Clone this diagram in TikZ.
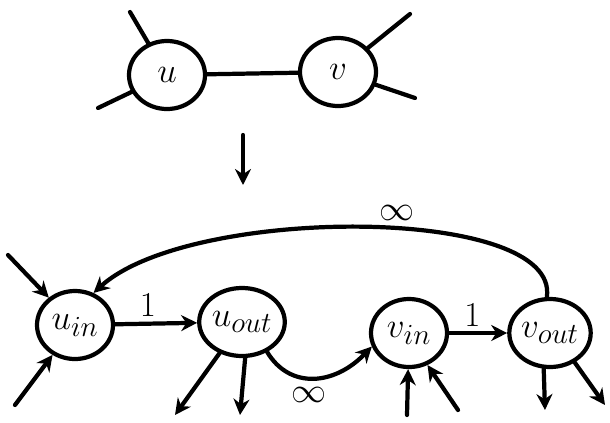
\documentclass[tikz,border=0pt]{standalone}
\usetikzlibrary{arrows.meta,shapes.geometric,positioning}
\begin{document}
\begin{tikzpicture}[
    x=0.025cm, y=-0.025cm,
    line width=3pt, line cap=round,
    vert/.style={draw, ellipse, minimum width=19mm, minimum height=17mm,
                 font=\Huge, inner sep=0pt},
    arr/.style={-{Stealth[length=4mm,width=4mm]}},
    wt/.style={font=\Huge},
  ]
  \useasboundingbox (0,0) rectangle (610,422);

  % the edge u--v
  \node[vert] (u) at (167,75) {$u$};
  \node[vert] (v) at (338,72) {$v$};
  \draw (u) -- (v);
  \coordinate (ua) at (130,12);
  \coordinate (ub) at (98,108);
  \coordinate (va) at (410,14);
  \coordinate (vb) at (415,98);
  \draw (ua) -- (u);
  \draw (ub) -- (u);
  \draw (va) -- (v);
  \draw (vb) -- (v);

  % becomes
  \coordinate (top) at (243,135);
  \coordinate (bot) at (243,185);
  \draw[arr] (top) -- (bot);

  % split vertices
  \node[vert] (uin)  at (75,325)  {$u_{in}$};
  \node[vert] (uout) at (242,322) {$u_{out}$};
  \node[vert] (vin)  at (409,333) {$v_{in}$};
  \node[vert] (vout) at (550,333) {$v_{out}$};

  \draw[arr] (uin) -- node[above, wt, pos=0.4]{$1$} (uout);
  \draw[arr] (vin) -- node[above, wt, pos=0.4]{$1$} (vout);
  \draw[arr] (uout.-50) .. controls (290,390) and (335,385) .. node[below=2pt, wt, pos=0.45]{$\infty$} (vin.200);
  \draw[arr] (vout.95) .. controls (560,205) and (190,205) .. node[above right=0pt and 8pt, wt]{$\infty$} (uin.60);

  % other edges
  \coordinate (ia) at (8,255);
  \coordinate (ib) at (15,405);
  \draw[arr] (ia) -- (uin);
  \draw[arr] (ib) -- (uin);
  \coordinate (oa) at (175,415);
  \coordinate (ob) at (240,415);
  \draw[arr] (uout) -- (oa);
  \draw[arr] (uout.-85) -- (ob);
  \coordinate (ja) at (407,415);
  \coordinate (jb) at (458,410);
  \draw[arr] (ja) -- (vin);
  \draw[arr] (jb) -- (vin.-60);
  \coordinate (pa) at (545,410);
  \coordinate (pb) at (605,405);
  \draw[arr] (vout.-100) -- (pa);
  \draw[arr] (vout.-50) -- (pb);
\end{tikzpicture}
\end{document}
